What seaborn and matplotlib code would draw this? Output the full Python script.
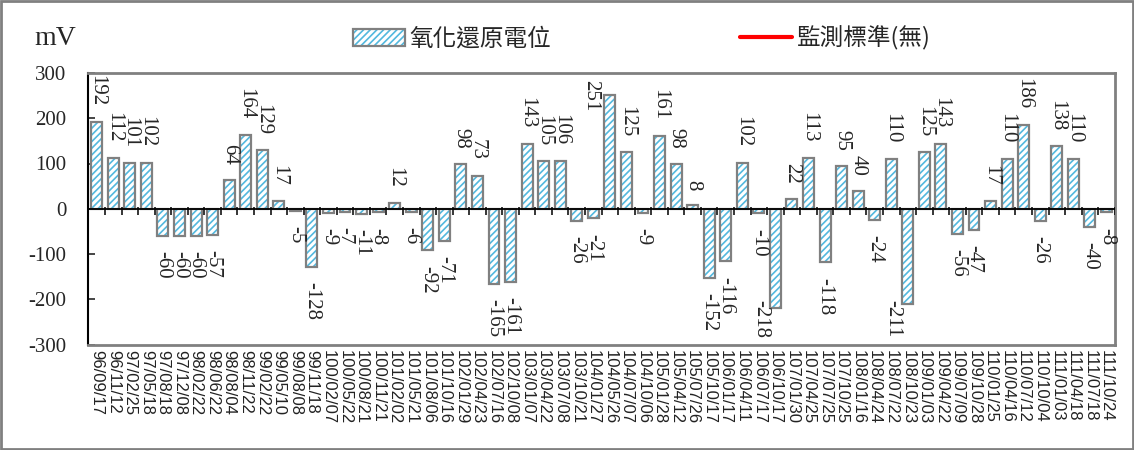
import numpy as np
import pandas as pd
import matplotlib.pyplot as plt
import seaborn as sns
from matplotlib.patches import Patch, Rectangle
from matplotlib.lines import Line2D

# --- 資料
fechas = [
    '96/09/17', '96/11/12', '97/02/25', '97/05/18', '97/08/18', '97/12/08',
    '98/02/22', '98/06/22', '98/08/04', '98/11/22', '99/02/22', '99/05/10',
    '99/08/08', '99/11/18',
    '100/02/07', '100/05/22', '100/08/21', '100/11/21',
    '101/02/02', '101/05/21', '101/08/06', '101/10/16',
    '102/01/29', '102/04/23', '102/07/16', '102/10/08',
    '103/01/07', '103/04/22', '103/07/08', '103/10/21',
    '104/01/27', '104/05/26', '104/07/07', '104/10/06',
    '105/01/28', '105/04/12', '105/07/26', '105/10/17',
    '106/01/17', '106/04/11', '106/07/17', '106/10/17',
    '107/01/30', '107/04/25', '107/07/25', '107/10/25',
    '108/01/16', '108/04/24', '108/07/22', '108/10/23',
    '109/01/03', '109/04/22', '109/07/09', '109/10/28',
    '110/01/25', '110/04/16', '110/07/12', '110/10/04',
    '111/01/03', '111/04/18', '111/07/18', '111/10/24',
]
orp = [
    192, 112, 101, 102, -60, -60, -60, -57, 64, 164, 129, 17, -5, -128,
    -9, -7, -11, -8, 12, -6, -92, -71, 98, 73, -165, -161,
    143, 105, 106, -26, -21, 251, 125, -9, 161, 98, 8, -152,
    -116, 102, -10, -218, 22, 113, -118, 95, 40, -24, 110, -211,
    125, 143, -56, -47, 17, 110, 186, -26, 138, 110, -40, -8,
]
serie_nombre = '氧化還原電位'
norma_nombre = '監測標準(無)'
y_ticks = [-300, -200, -100, 0, 100, 200, 300]

df = pd.DataFrame({'fecha': fechas, 'orp': orp})

# --- Estilo
sns.set_style('white')
plt.rcParams['font.family'] = ['Liberation Serif', 'Noto Sans CJK TC', 'DejaVu Sans']
plt.rcParams['hatch.linewidth'] = 1.2

HATCH = '#52b8de'
GRIS = '#808080'

fig = plt.figure(figsize=(11.34, 4.5), dpi=100)
ax = fig.add_axes([0.078, 0.234, 0.905, 0.604])

# barras con rayado
sns.barplot(data=df, x='fecha', y='orp', order=fechas, color='white',
            edgecolor=HATCH, linewidth=0, hatch='/////', width=0.66,
            saturation=1, errorbar=None, ax=ax)
barras = ax.containers[0]
# contorno gris
sns.barplot(data=df, x='fecha', y='orp', order=fechas, fill=False,
            color=GRIS, linewidth=1.6, width=0.66, saturation=1,
            errorbar=None, ax=ax)

# etiquetas de valor
etiquetas = ax.bar_label(barras, fmt='%d', rotation=270, padding=11,
                         fontsize=15, family='Liberation Serif')

# eje en cero con marcas entre categorías
n = len(fechas)
ax.axhline(0, color='black', lw=1.3, zorder=3)
ax.vlines(np.arange(n + 1) - 0.5, -13, 5, color='black', lw=1.1, zorder=3)

ax.set_xlim(-0.5, n - 0.5)
ax.set_ylim(-300, 300)
ax.set_yticks(y_ticks)
ax.set_yticklabels([str(v) for v in y_ticks], fontsize=15, family='Liberation Serif')
ax.tick_params(axis='y', direction='in', length=5, width=1.2, left=True, pad=16)
ax.set_xticks(range(n))
ax.set_xticklabels(fechas, rotation=270, fontsize=12, family='Liberation Sans',
                   color='#222222')
ax.tick_params(axis='x', length=0, pad=4)
ax.set_xlabel('')
ax.set_ylabel('')

for lado in ['top', 'right', 'bottom']:
    ax.spines[lado].set_color(GRIS)
    ax.spines[lado].set_linewidth(2)
ax.spines['left'].set_color('black')
ax.spines['left'].set_linewidth(1.5)

# unidad
fig.text(0.03, 0.915, 'mV', fontsize=20, family='Liberation Serif', va='center')

# leyenda
h_serie = (Patch(facecolor='white', edgecolor=HATCH, hatch='/////', linewidth=0),
           Patch(facecolor='none', edgecolor=GRIS, linewidth=1.6))
h_norma = Line2D([], [], color='red', lw=3)
fig.legend([h_serie, h_norma], [serie_nombre, norma_nombre], ncol=2,
           loc='center', bbox_to_anchor=(0.566, 0.915), frameon=False,
           prop={'family': 'Noto Sans CJK TC', 'size': 17},
           handlelength=2.2, handleheight=0.7, handletextpad=0.2,
           columnspacing=8)

# marco de la figura
fig.patches.append(Rectangle((0.001, 0.002), 0.998, 0.996, transform=fig.transFigure,
                             fill=False, edgecolor=GRIS, linewidth=2))

# etiquetas que salen del área: meterlas dentro y correrlas al costado
fig.canvas.draw()
caja = ax.get_window_extent()
px2pt = 72 / fig.dpi
for t in etiquetas:
    bb = t.get_window_extent()
    dx, dy = t.xyann
    if bb.y1 > caja.y1 + 1:
        t.xyann = (dx - 19 * px2pt, dy - (bb.y1 - caja.y1 + 7) * px2pt)
    elif bb.y0 < caja.y0 - 1:
        t.xyann = (dx - 15 * px2pt, dy + (caja.y0 - bb.y0 + 7) * px2pt)

fig.savefig('out.png', dpi=100)
